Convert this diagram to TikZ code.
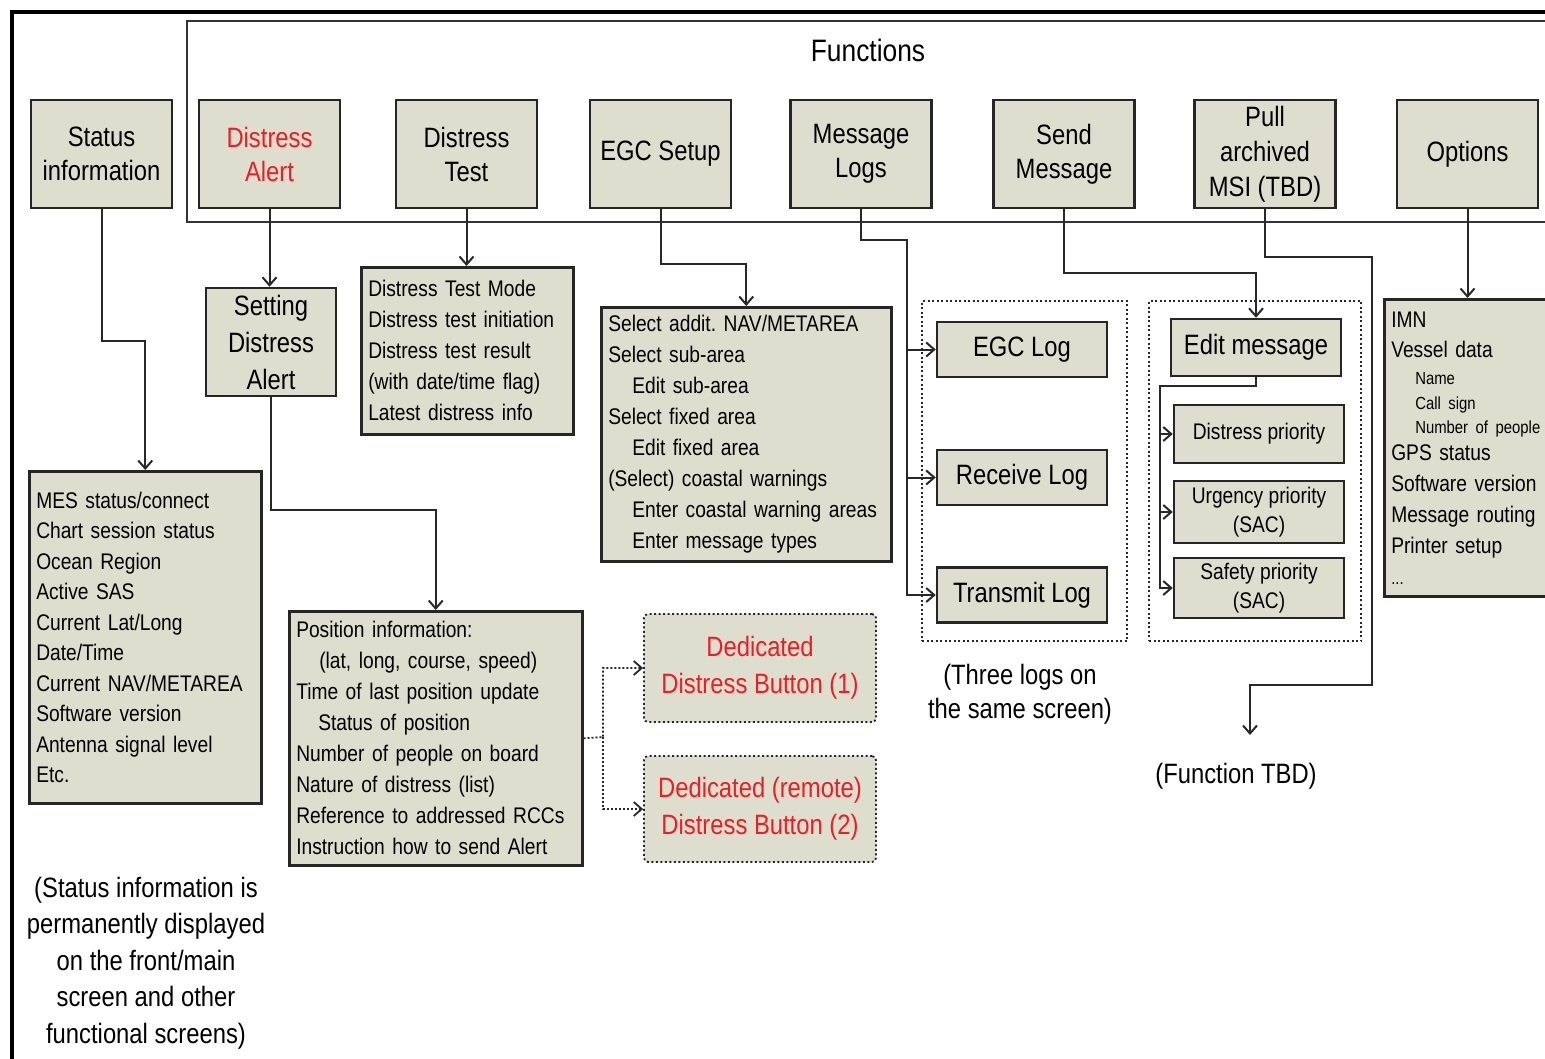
\documentclass[tikz,border=0pt]{standalone}
\usepackage{fontspec}
\setmainfont{Liberation Sans}[FakeStretch=0.85]
\usetikzlibrary{arrows.meta}
\frenchspacing
\definecolor{boxfill}{RGB}{221,222,205}
\definecolor{alertred}{RGB}{235,30,36}
\definecolor{lineclr}{RGB}{40,40,40}
\newcommand\myTitle{\fontsize{31}{36}\selectfont}
\newcommand\myBig{\fontsize{28}{34}\selectfont}
\newcommand\myBigLoose{\fontsize{28}{37}\selectfont}
\newcommand\myList{\fontsize{22.6}{31}\selectfont}
\newcommand\myListTight{\fontsize{22.6}{29}\selectfont}
\newcommand\mySmall{\fontsize{17.5}{24}\selectfont}
\begin{document}
\begin{tikzpicture}[x=1pt,y=-1pt,
  fbox/.style={draw=black!85, line width=2.5pt, fill=boxfill, inner sep=0pt, align=center, font=\myBig},
  titlebox/.style={fbox, minimum width=141, minimum height=108},
  listbox/.style={fbox, anchor=north west, align=left, inner xsep=7pt, inner ysep=0pt, font=\myList},
  logbox/.style={fbox, minimum width=170, minimum height=55},
  prbox/.style={fbox, minimum width=170, font=\myListTight},
  dedbox/.style={draw=black!85, line width=1.8pt, dash pattern=on 2pt off 2.5pt, fill=boxfill, rounded corners=4pt, minimum width=232, align=center, text=alertred, font=\myBigLoose},
  groupbox/.style={draw=black!85, line width=1.8pt, dash pattern=on 2pt off 2.5pt, inner sep=0pt},
  conn/.style={draw=lineclr, line width=2pt},
  arr/.style={conn, -{Straight Barb[length=8pt,width=14pt]}},
  darr/.style={arr, dash pattern=on 2pt off 2pt, line width=1.8pt},
  note/.style={align=center, font=\myBig, inner sep=0pt}
]
\useasboundingbox (0,0) rectangle (1545,1058);
\clip (0,0) rectangle (1545,1058);
\fill[white] (0,0) rectangle (1545,1058);

% frames
\draw[line width=4.5pt, black] (12,1080) -- (12,12) -- (1570,12);
\draw[line width=2.2pt, black!80] (1570,21) -- (187,21) -- (187,222) -- (1570,222);
\node[note, font=\myTitle] (functions) at (868,50) {Functions};

% top row
\node[titlebox] (status) at (101.5,154) {Status\\information};
\node[titlebox, text=alertred] (alert) at (269.5,154) {Distress\\Alert};
\node[titlebox] (dtest) at (466.5,154) {Distress\\Test};
\node[titlebox] (egc) at (660.5,154) {EGC Setup};
\node[titlebox] (msglogs) at (861,154) {Message\\Logs};
\node[titlebox] (send) at (1064,154) {Send\\Message};
\node[titlebox, font=\fontsize{28}{35}\selectfont] (msi) at (1265,154) {Pull\\archived\\MSI (TBD)};
\node[titlebox] (options) at (1467.5,154) {Options};

% second level
\node[fbox, minimum width=130, minimum height=108, font=\myBigLoose] (setting) at (271,342) {Setting\\Distress\\Alert};
\node[listbox, text width=198, minimum height=167] (dtlist) at (360,266) {Distress Test Mode\\Distress test initiation\\Distress test result\\(with date/time flag)\\Latest distress info};
\node[listbox, text width=276, minimum height=254] (egclist) at (600,306) {Select addit. NAV/METAREA\\Select sub-area\\\hspace*{24pt}Edit sub-area\\Select fixed area\\\hspace*{24pt}Edit fixed area\\(Select) coastal warnings\\\hspace*{24pt}Enter coastal warning areas\\\hspace*{24pt}Enter message types};
\node[listbox, text width=218, minimum height=332, font=\fontsize{22.6}{30.5}\selectfont] (statlist) at (28,470) {MES status/connect\\Chart session status\\Ocean Region\\Active SAS\\Current Lat/Long\\Date/Time\\Current NAV/METAREA\\Software version\\Antenna signal level\\Etc.};
\node[listbox, text width=279, minimum height=254] (poslist) at (288,610) {Position information:\\\hspace*{23pt}(lat, long, course, speed)\\Time of last position update\\\hspace*{22pt}Status of position\\Number of people on board\\Nature of distress (list)\\Reference to addressed RCCs\\Instruction how to send Alert};
\node[listbox, text width=170, minimum height=297] (optlist) at (1383,298) {IMN\\[-1pt]Vessel data\\[-4pt]\hspace*{24pt}{\mySmall Name}\\[-6pt]\hspace*{24pt}{\mySmall Call sign}\\[-7pt]\hspace*{24pt}{\mySmall Number of people}\\[-4pt]GPS status\\Software version\\Message routing\\Printer setup\\{\mySmall ...}};

% dedicated buttons
\node[dedbox, minimum height=108] (ded1) at (760,668) {Dedicated\\Distress Button (1)};
\node[dedbox, minimum height=106] (ded2) at (760,809) {Dedicated (remote)\\Distress Button (2)};

% logs group
\node[groupbox, minimum width=205, minimum height=340] (loggroup) at (1024.5,471) {};
\node[logbox] (egclog) at (1022,349.5) {EGC Log};
\node[logbox] (rxlog) at (1022,477.5) {Receive Log};
\node[logbox] (txlog) at (1022,595) {Transmit Log};
\node[note] (threelogs) at (1020,694) {(Three logs on\\the same screen)};

% send group
\node[groupbox, minimum width=212, minimum height=340] (sendgroup) at (1255,471) {};
\node[fbox, minimum width=170, minimum height=57] (editmsg) at (1256,347.5) {Edit message};
\node[prbox, minimum height=58] (distpr) at (1259,434) {Distress priority};
\node[prbox, minimum height=62] (urgpr) at (1259,512) {Urgency priority\\(SAC)};
\node[prbox, minimum height=60] (safety) at (1259,588) {Safety priority\\(SAC)};

% notes
\node[note] (tbd) at (1236,776) {(Function TBD)};
\node[note, font=\fontsize{28}{36.5}\selectfont] (statnote) at (146,963) {(Status information is\\permanently displayed\\on the front/main\\screen and other\\functional screens)};

% connectors
\draw[arr] (status.south) -- ++(0,132) -| (statlist.north);
\draw[arr] (alert.south) -- (alert.south |- setting.north);
\draw[arr] (setting.south) -- ++(0,113) -| (poslist.north);
\draw[arr] (dtest.south) -- (dtest.south |- dtlist.north);
\draw[arr] (egc.south) -- ++(0,55) -| (egclist.north);
\coordinate (mlbus) at (907,240);
\draw[arr] (msglogs.south) |- (mlbus) |- (txlog.west);
\draw[arr] (mlbus |- egclog.west) -- (egclog.west);
\draw[arr] (mlbus |- rxlog.west) -- (rxlog.west);
\draw[arr] (send.south) -- ++(0,64) -| (editmsg.north);
\coordinate (embus) at (1160,386);
\draw[arr] (editmsg.south) |- (embus) |- (safety.west);
\draw[arr] (embus |- distpr.west) -- (distpr.west);
\draw[arr] (embus |- urgpr.west) -- (urgpr.west);
\coordinate (msiturn) at (1372,685);
\coordinate (tbdtip) at (1250,735);
\draw[arr] (msi.south) -- ++(0,48) -| (msiturn) -| (tbdtip);
\draw[arr] (options.south) -- (options.south |- optlist.north);
\coordinate (dbus) at (603,737);
\draw[darr] (poslist.east) -- (dbus) |- (ded1.west);
\draw[darr] (dbus) |- (ded2.west);
\end{tikzpicture}
\end{document}
